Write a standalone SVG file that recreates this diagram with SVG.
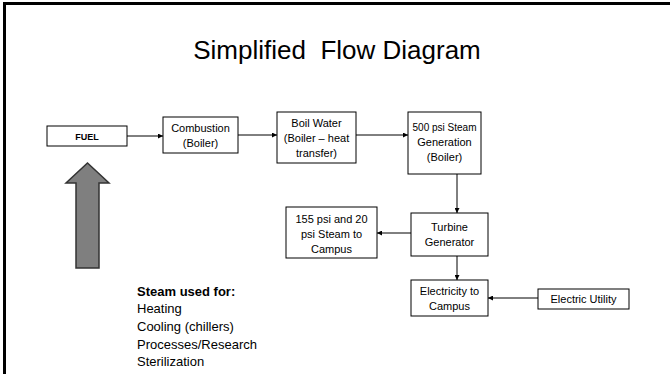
<svg xmlns="http://www.w3.org/2000/svg" width="670" height="374" viewBox="0 0 670 374">
<defs>
<style>
.box{fill:#fff;stroke:#000;stroke-width:1}
.t{font-family:"Liberation Sans",Arial,sans-serif;font-size:11px;fill:#000;text-anchor:middle}
.c{stroke:#000;stroke-width:1;fill:none;marker-end:url(#ah)}
.l{font-family:"Liberation Sans",Arial,sans-serif;font-size:13px;fill:#000}
</style>
<marker id="ah" viewBox="0 0 6 6" refX="6" refY="3" markerWidth="5" markerHeight="5" orient="auto" markerUnits="userSpaceOnUse">
<path d="M0,0 L6,3 L0,6 z" fill="#000"/>
</marker>
</defs>
<rect width="670" height="374" fill="#fff"/>
<path d="M4.5,374 V3.5 H670" fill="none" stroke="#000" stroke-width="3"/>
<text x="337" y="59" style="font-family:'Liberation Sans',Arial,sans-serif;font-size:26px;text-anchor:middle" xml:space="preserve">Simplified  Flow Diagram</text>

<g id="connectors">
<line class="c" x1="127" y1="136" x2="163" y2="136"/>
<line class="c" x1="238" y1="135" x2="277" y2="135"/>
<line class="c" x1="356" y1="135" x2="408" y2="135"/>
<line class="c" x1="457" y1="174" x2="457" y2="213"/>
<line class="c" x1="411" y1="233" x2="377" y2="233"/>
<line class="c" x1="457" y1="256" x2="457" y2="280"/>
<line class="c" x1="538" y1="298" x2="488" y2="298"/>
</g>

<g id="fuel">
<rect class="box" x="47" y="126" width="80" height="20"/>
<text class="t" x="87" y="139.5" style="font-size:9px;font-weight:bold">FUEL</text>
</g>
<g id="combustion">
<rect class="box" x="163" y="117" width="75" height="36"/>
<text class="t" x="200.5" y="132">Combustion</text>
<text class="t" x="200.5" y="147">(Boiler)</text>
</g>
<g id="boil-water">
<rect class="box" x="277" y="112" width="79" height="51"/>
<text class="t" x="316.5" y="127">Boil Water</text>
<text class="t" x="316.5" y="142">(Boiler – heat</text>
<text class="t" x="316.5" y="157">transfer)</text>
</g>
<g id="steam-gen">
<rect class="box" x="408" y="112" width="73" height="62"/>
<text class="t" x="444.5" y="131" style="font-size:10px">500 psi Steam</text>
<text class="t" x="444.5" y="146">Generation</text>
<text class="t" x="444.5" y="161">(Boiler)</text>
</g>
<g id="turbine">
<rect class="box" x="411" y="213" width="77" height="43"/>
<text class="t" x="449.5" y="231">Turbine</text>
<text class="t" x="449.5" y="246">Generator</text>
</g>
<g id="steam-campus">
<rect class="box" x="286" y="207" width="91" height="51"/>
<text class="t" x="331.5" y="223">155 psi and 20</text>
<text class="t" x="331.5" y="238">psi Steam to</text>
<text class="t" x="331.5" y="253">Campus</text>
</g>
<g id="electricity">
<rect class="box" x="411" y="280" width="77" height="36"/>
<text class="t" x="449.5" y="295">Electricity to</text>
<text class="t" x="449.5" y="310">Campus</text>
</g>
<g id="utility">
<rect class="box" x="538" y="289" width="91" height="20"/>
<text class="t" x="583.5" y="302.5">Electric Utility</text>
</g>
<g id="big-arrow">
<polygon points="87.5,163 109,183 99,183 99,268 76,268 76,183 66,183" fill="#7f7f7f" stroke="#333" stroke-width="1.5"/>
</g>
<g id="steam-uses">
<text class="l" x="137" y="296" style="font-weight:bold">Steam used for:</text>
<text class="l" x="137" y="313">Heating</text>
<text class="l" x="137" y="331">Cooling (chillers)</text>
<text class="l" x="137" y="349">Processes/Research</text>
<text class="l" x="137" y="366">Sterilization</text>
</g>
</svg>
